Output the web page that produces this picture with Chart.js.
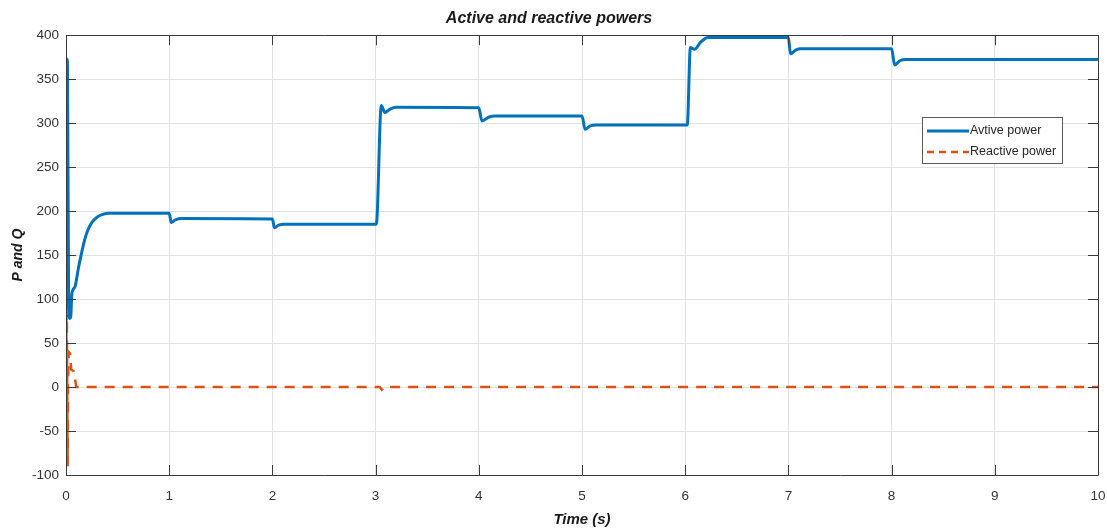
<!DOCTYPE html>
<html>
<head>
<meta charset="utf-8">
<script src="https://cdn.jsdelivr.net/npm/chart.js@4/dist/chart.umd.min.js"></script>
<style>
  html, body { margin: 0; padding: 0; background: #ffffff; }
  #wrap { width: 1107px; height: 530px; }
</style>
</head>
<body>
<div id="wrap"><canvas id="c" width="1107" height="530"></canvas></div>
<script>
// ---- data ----
const titleText = "Active and reactive powers";
const xTitle = "Time (s)";
const yTitle = "P and Q";
const seriesNames = ["Avtive power", "Reactive power"];

const xTicks = [0, 1, 2, 3, 4, 5, 6, 7, 8, 9, 10];
const yTicks = [-100, -50, 0, 50, 100, 150, 200, 250, 300, 350, 400];

const timeP = [0, 0.006, 0.014, 0.026, 0.036, 0.046, 0.056, 0.066, 0.09, 0.12, 0.15, 0.18, 0.21, 0.25, 0.3, 0.35, 0.42,
  1.0, 1.02, 1.06, 1.12, 2.0, 2.02, 2.06, 2.12, 3.007, 3.055, 3.09, 3.14, 3.2,
  4.0, 4.03, 4.1, 4.16, 5.0, 5.03, 5.08, 5.14, 6.02, 6.05, 6.09, 6.15, 6.22,
  7.0, 7.02, 7.07, 7.12, 8.0, 8.03, 8.08, 8.14, 10.0];
const activeP = [15, 373, 370, 90, 78, 80, 105, 110, 115, 135, 152, 167, 178, 187, 193, 196, 197.5,
  197.5, 187, 190, 191.5, 191, 181, 184, 185, 185, 320, 312, 316, 318,
  317.5, 302.5, 307, 308, 308, 293, 297, 298, 298, 386, 384, 392, 397.5,
  397.5, 379, 383, 384.5, 384.5, 366, 371, 372.5, 372.5];

const timeQ = [0, 0.008, 0.016, 0.02, 0.026, 0.04, 0.05, 0.075, 0.1, 3.04, 3.06, 3.08, 10.0];
const reactiveQ = [0, 88, -90, 5, 40, 38, 20, 18, 0, 0, -3, 0, 0];

// ---- build chart data ----
const toPts = (xs, ys) => xs.map((x, i) => ({ x: x, y: ys[i] }));
const BLUE = "#0072BD";
const ORANGE = "#D95319";
const FONT = "'Liberation Sans', Arial, Helvetica, sans-serif";

const boxPlugin = {
  id: "matlabBox",
  afterDatasetsDraw(chart) {
    const { ctx, chartArea: a, scales } = chart;
    ctx.save();
    ctx.strokeStyle = "#3a3a3a";
    ctx.lineWidth = 1;
    ctx.beginPath();
    ctx.rect(Math.round(a.left) + 0.5, Math.round(a.top) + 0.5, Math.round(a.right - a.left), Math.round(a.bottom - a.top));
    ctx.stroke();
    const tl = 10;
    ctx.beginPath();
    xTicks.forEach(v => {
      const px = Math.round(scales.x.getPixelForValue(v)) + 0.5;
      ctx.moveTo(px, a.bottom); ctx.lineTo(px, a.bottom - tl);
      ctx.moveTo(px, a.top); ctx.lineTo(px, a.top + tl);
    });
    yTicks.forEach(v => {
      const py = Math.round(scales.y.getPixelForValue(v)) + 0.5;
      ctx.moveTo(a.left, py); ctx.lineTo(a.left + tl, py);
      ctx.moveTo(a.right, py); ctx.lineTo(a.right - tl, py);
    });
    ctx.stroke();
    ctx.restore();
  },
  afterDraw(chart) {
    const ctx = chart.ctx;
    const bx = 922, by = 117, bw = 140, bh = 46;
    ctx.save();
    ctx.fillStyle = "#ffffff";
    ctx.fillRect(bx, by, bw, bh);
    ctx.strokeStyle = "#5a5a5a";
    ctx.lineWidth = 1;
    ctx.strokeRect(bx + 0.5, by + 0.5, bw, bh);
    ctx.font = "12.5px " + FONT;
    ctx.textBaseline = "middle";
    ctx.textAlign = "left";
    chart.data.datasets.forEach((ds, i) => {
      const y = by + 14 + i * 21;
      ctx.strokeStyle = ds.borderColor;
      ctx.lineWidth = ds.borderWidth;
      ctx.setLineDash(i === 1 ? [7, 5] : []);
      ctx.beginPath();
      ctx.moveTo(bx + 5, y);
      ctx.lineTo(bx + 47, y);
      ctx.stroke();
      ctx.setLineDash([]);
      ctx.fillStyle = "#262626";
      ctx.fillText(ds.label, bx + 48, y);
    });
    ctx.restore();
  }
};

new Chart(document.getElementById("c"), {
  type: "line",
  data: {
    datasets: [
      { label: seriesNames[0], data: toPts(timeP, activeP), order: 1, borderColor: BLUE, backgroundColor: BLUE, borderWidth: 3, pointRadius: 0, cubicInterpolationMode: "monotone", fill: false },
      { label: seriesNames[1], data: toPts(timeQ, reactiveQ), order: 0, borderColor: ORANGE, backgroundColor: ORANGE, borderWidth: 2.5, borderDash: [10, 8], pointRadius: 0, tension: 0, fill: false }
    ]
  },
  options: {
    responsive: false,
    devicePixelRatio: 1,
    animation: false,
    layout: { padding: { left: 0, right: 9, top: 0, bottom: 0 } },
    plugins: {
      legend: { display: false },
      tooltip: { enabled: false },
      title: {
        display: true, text: titleText, color: "#1a1a1a",
        font: { family: FONT, size: 16, style: "italic", weight: "bold" },
        padding: { top: 9, bottom: 7 }
      }
    },
    scales: {
      x: {
        type: "linear", min: 0, max: 10,
        afterFit: s => { s.height = 55; s.paddingLeft = 0; s.paddingRight = 0; },
        afterBuildTicks: s => { s.ticks = xTicks.map(v => ({ value: v })); },
        ticks: { color: "#333333", font: { family: FONT, size: 13.5 }, padding: 13, maxRotation: 0, autoSkip: false },
        grid: { color: "#e2e2e2", drawTicks: false, lineWidth: 1 },
        border: { display: false },
        title: { display: true, text: xTitle, color: "#1a1a1a", font: { family: FONT, size: 15, style: "italic", weight: "bold" }, padding: { top: 0, bottom: 1 } }
      },
      y: {
        type: "linear", min: -100, max: 400,
        afterFit: s => { s.width = 66; s.paddingTop = 0; s.paddingBottom = 0; },
        afterBuildTicks: s => { s.ticks = yTicks.map(v => ({ value: v })); },
        ticks: { color: "#333333", font: { family: FONT, size: 13.5 }, padding: 7, autoSkip: false },
        grid: { color: "#e2e2e2", drawTicks: false, lineWidth: 1 },
        border: { display: false },
        title: { display: true, text: yTitle, color: "#1a1a1a", font: { family: FONT, size: 14, style: "italic", weight: "bold" }, padding: { top: 10, bottom: 0 } }
      }
    }
  },
  plugins: [boxPlugin]
});
</script>
</body>
</html>
